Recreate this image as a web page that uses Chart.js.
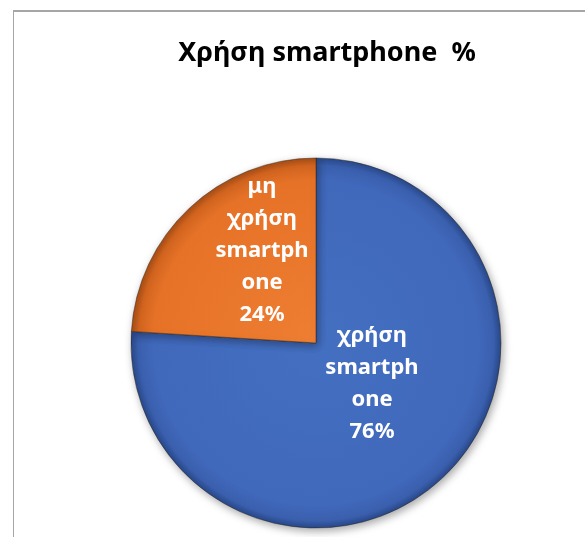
<!DOCTYPE html>
<html>
<head>
<meta charset="utf-8">
<script src="https://cdn.jsdelivr.net/npm/chart.js@4/dist/chart.umd.min.js"></script>
<style>
  html, body { margin: 0; padding: 0; background: #ffffff; overflow: hidden; }
  #wrap { position: relative; width: 585px; height: 537px; }
  #frame { position: absolute; left: 13px; top: 10px; width: 700px; height: 700px;
           border-top: 2px solid #a6a6a6; border-left: 1px solid #a6a6a6; box-sizing: border-box; }
  #c { position: absolute; left: 0; top: 0; }
</style>
</head>
<body>
<div id="wrap">
  <div id="frame"></div>
  <canvas id="c" width="585" height="537"></canvas>
</div>
<script>
// ---- data ----
const chartTitle = 'Χρήση smartphone  %';
const categories = ['χρήση smartphone', 'μη χρήση smartphone'];
const values = [76, 24];
// how the category names wrap inside the slices
const labelLines = [
  ['χρήση', 'smartph', 'one'],
  ['μη', 'χρήση', 'smartph', 'one']
];
const sliceColors = [
  ['#4470c2', '#4068bb', '#3a5fad', '#29488a'],
  ['#ee7e32', '#e67227', '#d1641f', '#a64c15']
];

// ---- helpers ----
const PIE_RADIUS = 185;
const CENTER_SHIFT_X = -11;

function pieGradient(ctx) {
  const chart = ctx.chart;
  const ca = chart.chartArea;
  const cols = sliceColors[ctx.dataIndex];
  if (!ca) return cols[0];
  const cx = (ca.left + ca.right) / 2;
  const cy = (ca.top + ca.bottom) / 2;
  const g = chart.ctx.createRadialGradient(cx, cy, 0, cx, cy, PIE_RADIUS);
  g.addColorStop(0, cols[0]);
  g.addColorStop(0.88, cols[1]);
  g.addColorStop(0.96, cols[2]);
  g.addColorStop(1, cols[3]);
  return g;
}

const shiftPlugin = {
  id: 'shiftPie',
  afterLayout(chart) {
    chart.chartArea.left += CENTER_SHIFT_X;
    chart.chartArea.right += CENTER_SHIFT_X;
  }
};

const shadowPlugin = {
  id: 'pieShadow',
  beforeDatasetsDraw(chart) {
    const c = chart.ctx;
    c.save();
    c.shadowColor = 'rgba(0,0,0,0.35)';
    c.shadowBlur = 9;
    c.shadowOffsetX = 2;
    c.shadowOffsetY = 3;
  },
  afterDatasetsDraw(chart) {
    chart.ctx.restore();
  }
};

const sliceLabelPlugin = {
  id: 'sliceLabels',
  afterDraw(chart, args, opts) {
    const c = chart.ctx;
    const meta = chart.getDatasetMeta(0);
    const ds = chart.data.datasets[0];
    const total = ds.data.reduce((a, b) => a + b, 0);
    c.save();
    c.fillStyle = '#ffffff';
    c.font = 'bold 22px "Noto Sans"';
    c.textAlign = 'center';
    c.textBaseline = 'middle';
    meta.data.forEach((el, i) => {
      const p = el.getProps(['x', 'y', 'startAngle', 'endAngle', 'outerRadius'], true);
      const mid = (p.startAngle + p.endAngle) / 2 + opts.angleShift[i];
      const r = p.outerRadius * opts.radial[i];
      const px = p.x + Math.cos(mid) * r;
      const py = p.y + Math.sin(mid) * r;
      const lines = labelLines[i].concat([Math.round(ds.data[i] / total * 100) + '%']);
      const lh = 32;
      const y0 = py - (lines.length - 1) * lh / 2;
      lines.forEach((t, k) => c.fillText(t, px, y0 + k * lh));
    });
    c.restore();
  }
};

new Chart(document.getElementById('c'), {
  type: 'pie',
  data: {
    labels: categories,
    datasets: [{
      data: values,
      backgroundColor: pieGradient,
      borderColor: 'rgba(40,30,20,0.45)',
      borderWidth: 1,
      clip: false
    }]
  },
  options: {
    responsive: false,
    animation: false,
    radius: PIE_RADIUS,
    layout: { padding: { left: 69, right: 0, top: 0, bottom: 0 } },
    plugins: {
      legend: { display: false },
      tooltip: { enabled: false },
      title: {
        display: true,
        text: chartTitle,
        color: '#000000',
        font: { family: 'Noto Sans', weight: 'bold', size: 27, lineHeight: 1.2 },
        padding: { top: 36.8, bottom: 79.8 }
      },
      sliceLabels: {
        angleShift: [-10.6 * Math.PI / 180, 13 * Math.PI / 180],
        radial: [0.375, 0.58]
      }
    }
  },
  plugins: [shiftPlugin, shadowPlugin, sliceLabelPlugin]
});
</script>
</body>
</html>
